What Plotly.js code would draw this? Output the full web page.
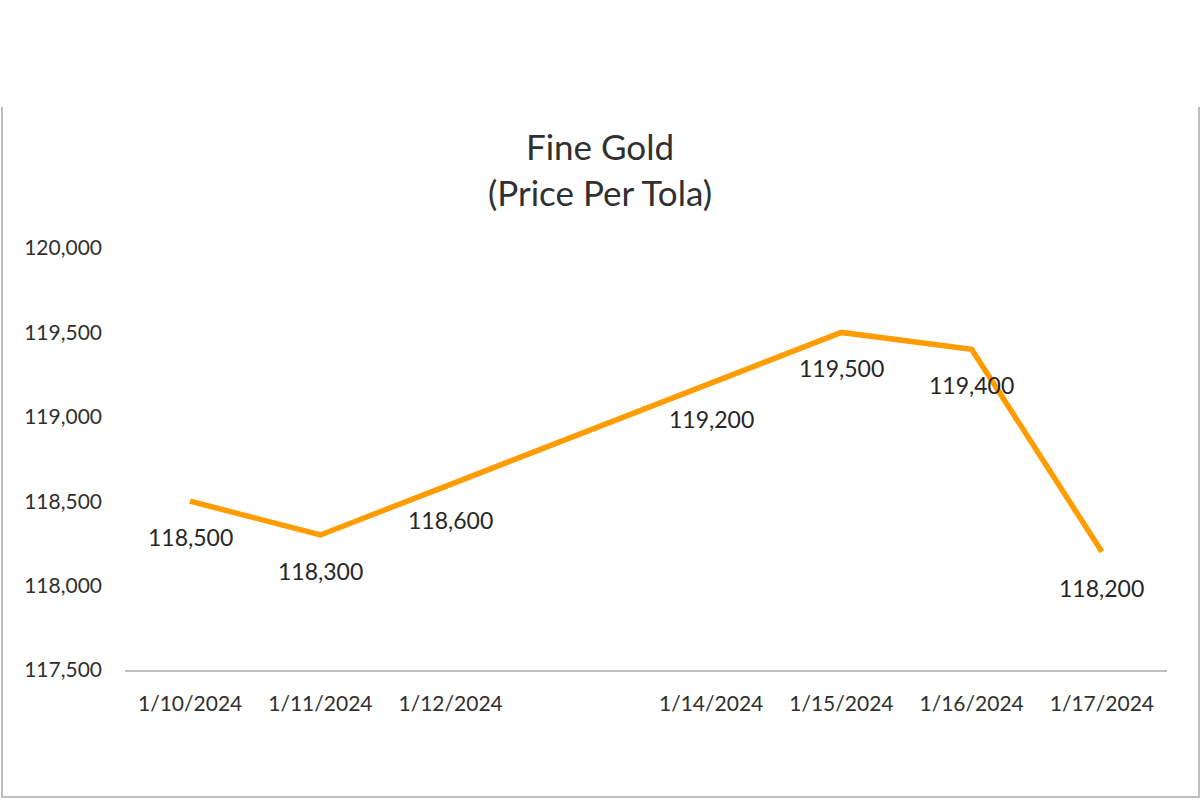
<!DOCTYPE html>
<html>
<head>
<meta charset="utf-8">
<script src="https://cdn.plot.ly/plotly-3.0.1.min.js"></script>
<style>
  html, body { margin: 0; padding: 0; background: #ffffff; }
  #wrap { position: relative; width: 1200px; height: 800px; }
  #chart { position: absolute; left: 0; top: 0; width: 1200px; height: 800px; }
  #frame { position: absolute; left: 1px; top: 107px; width: 1195px; height: 689px;
           border-left: 2px solid #bfbfbf; border-right: 2px solid #bfbfbf; border-bottom: 2px solid #bfbfbf;
           pointer-events: none; }
</style>
</head>
<body>
<div id="wrap">
  <div id="chart"></div>
  <div id="frame"></div>
</div>
<script>
const dates = ["2024-01-10", "2024-01-11", "2024-01-12", "2024-01-14", "2024-01-15", "2024-01-16", "2024-01-17"];
const dateLabels = ["1/10/2024", "1/11/2024", "1/12/2024", "1/14/2024", "1/15/2024", "1/16/2024", "1/17/2024"];
const prices = [118500, 118300, 118600, 119200, 119500, 119400, 118200];
const yTicks = [117500, 118000, 118500, 119000, 119500, 120000];
const yTickLabels = ["117,500", "118,000", "118,500", "119,000", "119,500", "120,000"];

const fontFam = "Lato, 'Open Sans', sans-serif";

const trace = {
  x: dates,
  y: prices,
  type: 'scatter',
  mode: 'lines',
  line: { color: '#ff9c00', width: 5.5 },
  hoverinfo: 'skip'
};

const annotations = dates.map((d, i) => ({
  x: d, y: prices[i], xref: 'x', yref: 'y',
  text: prices[i].toLocaleString('en-US'),
  showarrow: false, yshift: -36,
  font: { family: fontFam, size: 23, color: '#262626' }
}));

const layout = {
  width: 1200, height: 800,
  paper_bgcolor: '#ffffff', plot_bgcolor: '#ffffff',
  margin: { l: 125, r: 33, t: 248, b: 130 },
  showlegend: false,
  title: {
    text: 'Fine Gold<br>(Price Per Tola)',
    x: 0.5, xanchor: 'center', y: 0.8, yanchor: 'middle',
    font: { family: fontFam, size: 35, color: '#303030' }
  },
  xaxis: {
    type: 'date',
    range: ['2024-01-09 12:00', '2024-01-17 12:00'],
    tickvals: dates, ticktext: dateLabels,
    showgrid: false, zeroline: false,
    showline: true, linecolor: '#bfbfbf', linewidth: 2,
    ticks: '', ticklabelstandoff: 14,
    tickfont: { family: fontFam, size: 21, color: '#303030' },
    fixedrange: true
  },
  yaxis: {
    range: [117500, 120000],
    tickvals: yTicks, ticktext: yTickLabels,
    showgrid: false, zeroline: false, showline: false,
    ticks: '', ticklabelstandoff: 22,
    tickfont: { family: fontFam, size: 21, color: '#303030' },
    fixedrange: true
  },
  annotations: annotations
};

Plotly.newPlot('chart', [trace], layout, { displayModeBar: false, staticPlot: true });
</script>
</body>
</html>
